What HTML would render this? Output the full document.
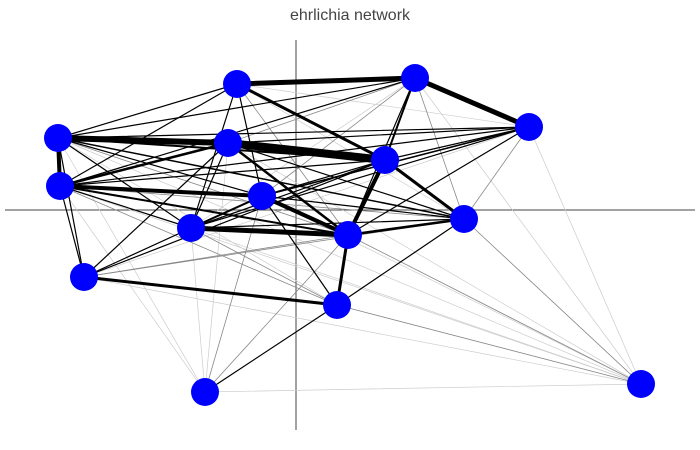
<!DOCTYPE html>
<html><head><meta charset="utf-8"><style>
html,body{margin:0;padding:0;background:#fff;}
svg{display:block;}
</style></head><body>
<svg width="700" height="450" viewBox="0 0 700 450" xmlns="http://www.w3.org/2000/svg">
<rect width="700" height="450" fill="#fff"/>
<text x="350" y="20" text-anchor="middle" font-family="Liberation Sans, sans-serif" font-size="16" fill="#444">ehrlichia network</text>
<line x1="5" y1="210" x2="695" y2="210" stroke="#444" stroke-width="1"/>
<line x1="296" y1="40" x2="296" y2="430" stroke="#444" stroke-width="1"/>
<g stroke-linecap="round">
<g stroke="#ccc" stroke-width="0.7">
<line x1="58" y1="138" x2="641" y2="384"/>
<line x1="60" y1="186" x2="641" y2="384"/>
<line x1="191" y1="228" x2="641" y2="384"/>
<line x1="228" y1="143" x2="641" y2="384"/>
<line x1="262" y1="196" x2="641" y2="384"/>
<line x1="205" y1="392" x2="641" y2="384"/>
<line x1="529" y1="127" x2="641" y2="384"/>
<line x1="415" y1="78" x2="641" y2="384"/>
<line x1="84" y1="277" x2="641" y2="384"/>
<line x1="58" y1="138" x2="205" y2="392"/>
<line x1="60" y1="186" x2="205" y2="392"/>
<line x1="191" y1="228" x2="205" y2="392"/>
<line x1="228" y1="143" x2="205" y2="392"/>
<line x1="58" y1="138" x2="337" y2="305"/>
<line x1="237" y1="84" x2="529" y2="127"/>
<line x1="237" y1="84" x2="464" y2="219"/>
<line x1="415" y1="78" x2="191" y2="228"/>
<line x1="529" y1="127" x2="191" y2="228"/>
<line x1="529" y1="127" x2="84" y2="277"/>
</g>
<g stroke="#888" stroke-width="0.8">
<line x1="337" y1="305" x2="641" y2="384"/>
<line x1="348" y1="235" x2="641" y2="384"/>
<line x1="464" y1="219" x2="641" y2="384"/>
<line x1="262" y1="196" x2="205" y2="392"/>
<line x1="348" y1="235" x2="205" y2="392"/>
<line x1="84" y1="277" x2="464" y2="219"/>
<line x1="237" y1="84" x2="348" y2="235"/>
<line x1="415" y1="78" x2="464" y2="219"/>
<line x1="529" y1="127" x2="464" y2="219"/>
<line x1="237" y1="84" x2="385" y2="160"/>
<line x1="415" y1="78" x2="262" y2="196"/>
<line x1="228" y1="143" x2="415" y2="78"/>
<line x1="58" y1="138" x2="348" y2="235"/>
<line x1="60" y1="186" x2="464" y2="219"/>
<line x1="84" y1="277" x2="348" y2="235"/>
<line x1="84" y1="277" x2="385" y2="160"/>
<line x1="191" y1="228" x2="337" y2="305"/>
<line x1="262" y1="196" x2="337" y2="305"/>
<line x1="60" y1="186" x2="337" y2="305"/>
<line x1="84" y1="277" x2="262" y2="196"/>
</g>
<g stroke="#000" stroke-width="1.2">
<line x1="58" y1="138" x2="237" y2="84"/>
<line x1="58" y1="138" x2="415" y2="78"/>
<line x1="58" y1="138" x2="529" y2="127"/>
<line x1="60" y1="186" x2="529" y2="127"/>
<line x1="60" y1="186" x2="415" y2="78"/>
<line x1="60" y1="186" x2="237" y2="84"/>
<line x1="228" y1="143" x2="529" y2="127"/>
<line x1="262" y1="196" x2="529" y2="127"/>
<line x1="191" y1="228" x2="529" y2="127"/>
<line x1="348" y1="235" x2="529" y2="127"/>
<line x1="348" y1="235" x2="415" y2="78"/>
<line x1="237" y1="84" x2="191" y2="228"/>
<line x1="237" y1="84" x2="262" y2="196"/>
<line x1="58" y1="138" x2="84" y2="277"/>
<line x1="60" y1="186" x2="84" y2="277"/>
<line x1="84" y1="277" x2="228" y2="143"/>
<line x1="84" y1="277" x2="191" y2="228"/>
<line x1="84" y1="277" x2="385" y2="160"/>
<line x1="191" y1="228" x2="385" y2="160"/>
<line x1="191" y1="228" x2="464" y2="219"/>
<line x1="58" y1="138" x2="262" y2="196"/>
<line x1="58" y1="138" x2="191" y2="228"/>
<line x1="60" y1="186" x2="191" y2="228"/>
<line x1="228" y1="143" x2="464" y2="219"/>
<line x1="228" y1="143" x2="348" y2="235"/>
<line x1="262" y1="196" x2="464" y2="219"/>
<line x1="262" y1="196" x2="385" y2="160"/>
<line x1="337" y1="305" x2="464" y2="219"/>
<line x1="337" y1="305" x2="205" y2="392"/>
<line x1="337" y1="305" x2="262" y2="196"/>
<line x1="228" y1="143" x2="191" y2="228"/>
<line x1="385" y1="160" x2="529" y2="127"/>
<line x1="385" y1="160" x2="60" y2="186"/>
</g>
<g stroke="#000">
<line x1="237" y1="84" x2="415" y2="78" stroke-width="5"/>
<line x1="415" y1="78" x2="529" y2="127" stroke-width="5"/>
<line x1="58" y1="138" x2="228" y2="143" stroke-width="6"/>
<line x1="228" y1="143" x2="385" y2="160" stroke-width="8"/>
<line x1="58" y1="138" x2="60" y2="186" stroke-width="4"/>
<line x1="60" y1="186" x2="262" y2="196" stroke-width="4"/>
<line x1="191" y1="228" x2="348" y2="235" stroke-width="5"/>
<line x1="262" y1="196" x2="348" y2="235" stroke-width="4"/>
<line x1="385" y1="160" x2="348" y2="235" stroke-width="4"/>
<line x1="337" y1="305" x2="348" y2="235" stroke-width="3"/>
<line x1="84" y1="277" x2="337" y2="305" stroke-width="3"/>
<line x1="237" y1="84" x2="385" y2="160" stroke-width="3"/>
<line x1="385" y1="160" x2="464" y2="219" stroke-width="3"/>
<line x1="228" y1="143" x2="348" y2="235" stroke-width="2.5"/>
<line x1="58" y1="138" x2="385" y2="160" stroke-width="2"/>
<line x1="60" y1="186" x2="228" y2="143" stroke-width="2.5"/>
<line x1="348" y1="235" x2="464" y2="219" stroke-width="2.5"/>
<line x1="191" y1="228" x2="262" y2="196" stroke-width="2"/>
<line x1="415" y1="78" x2="385" y2="160" stroke-width="2"/>
<line x1="60" y1="186" x2="348" y2="235" stroke-width="2"/>
<line x1="262" y1="196" x2="529" y2="127" stroke-width="1.5"/>
<line x1="58" y1="138" x2="464" y2="219" stroke-width="1.5"/>
</g>
</g>
<g fill="#0000ff">
<circle cx="237" cy="84" r="14"/>
<circle cx="415" cy="78" r="14"/>
<circle cx="529" cy="127" r="14"/>
<circle cx="58" cy="138" r="14"/>
<circle cx="228" cy="143" r="14"/>
<circle cx="385" cy="160" r="14"/>
<circle cx="60" cy="186" r="14"/>
<circle cx="262" cy="196" r="14"/>
<circle cx="464" cy="219" r="14"/>
<circle cx="191" cy="228" r="14"/>
<circle cx="348" cy="235" r="14"/>
<circle cx="84" cy="277" r="14"/>
<circle cx="337" cy="305" r="14"/>
<circle cx="205" cy="392" r="14"/>
<circle cx="641" cy="384" r="14"/>
</g>
</svg>
</body></html>
